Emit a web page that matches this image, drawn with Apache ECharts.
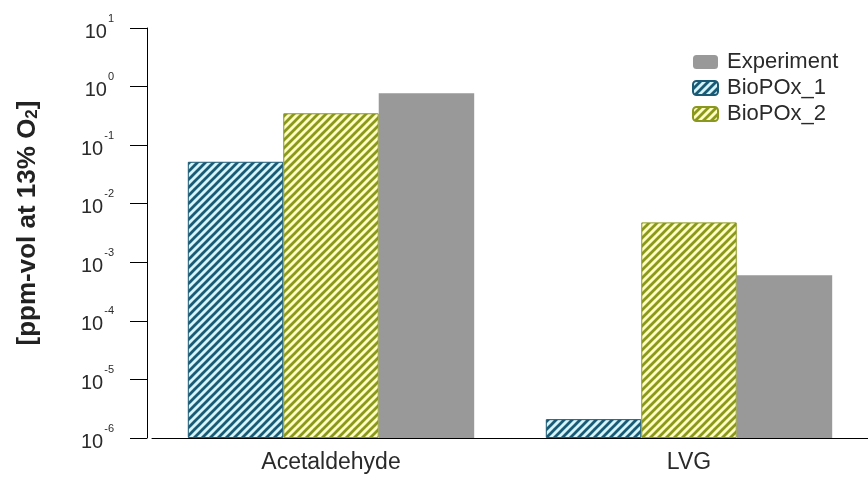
<!DOCTYPE html>
<html>
<head>
<meta charset="utf-8">
<script src="https://cdn.jsdelivr.net/npm/echarts@6/dist/echarts.min.js"></script>
<style>
  html, body { margin: 0; padding: 0; background: #fff; }
  #chart { width: 868px; height: 480px; }
</style>
</head>
<body>
<div id="chart"></div>
<script>
// 数据
const categories = ['Acetaldehyde', 'LVG']
const bioPOx1 = [0.052, 2.1e-6]
const bioPOx2 = [0.35, 0.0048]
const experiment = [0.77, 0.0006]

// 斜线填充
function makeHatch(bg, fg) {
  const s = 8
  const c = document.createElement('canvas')
  c.width = s
  c.height = s
  const ctx = c.getContext('2d')
  ctx.fillStyle = bg
  ctx.fillRect(0, 0, s, s)
  ctx.strokeStyle = fg
  ctx.lineWidth = 2.8
  ctx.beginPath()
  for (let k = 0; k <= 2; k++) {
    ctx.moveTo(-2, k * s + 2)
    ctx.lineTo(k * s + 2, -2)
  }
  ctx.stroke()
  return { image: c, repeat: 'repeat' }
}

const hatchBlue = makeHatch('#d4f5fc', '#1b5a75')
const hatchYellow = makeHatch('#fdfdc0', '#8a981e')

const myChart = echarts.init(document.getElementById('chart'))

const option = {
  animation: false,
  textStyle: { fontFamily: 'Liberation Sans, Arial, sans-serif' },
  legend: {
    data: ['Experiment', 'BioPOx_1', 'BioPOx_2'],
    orient: 'vertical',
    left: 687,
    top: 46,
    itemWidth: 25,
    itemHeight: 14,
    itemGap: 4,
    textStyle: { fontSize: 22, color: '#2a2a2a', padding: [0, 0, 0, 4] }
  },
  grid: {
    left: 152,
    right: -10,
    top: 28,
    bottom: 42
  },
  xAxis: {
    type: 'category',
    data: categories,
    axisLine: { lineStyle: { color: '#000', width: 1 } },
    axisTick: { length: 17, lineStyle: { color: '#000' } },
    axisLabel: { fontSize: 23, color: '#2a2a2a', margin: 13 }
  },
  yAxis: {
    type: 'log',
    logBase: 10,
    min: 1e-6,
    max: 10,
    startValue: 1e-6,
    offset: 5,
    name: '{a|[ppm-vol at 13% O}{sub|2}{a|]}',
    nameLocation: 'middle',
    nameRotate: 90,
    nameGap: 106,
    nameTextStyle: {
      padding: [0, 0, 0, 20],
      rich: {
        a: { fontSize: 26, fontWeight: 'bold', color: '#222' },
        sub: { fontSize: 17, fontWeight: 'bold', color: '#222', padding: [10, 0, 0, 0] }
      }
    },
    splitLine: { show: false },
    axisLine: { show: true, lineStyle: { color: '#000', width: 1 } },
    axisTick: { show: true, length: 17, lineStyle: { color: '#000' } },
    axisLabel: {
      margin: 33,
      padding: [8, 0, 0, 0],
      formatter: (v) => '{b|10}{s|' + Math.round(Math.log10(v)) + '}',
      rich: {
        b: { fontSize: 20, lineHeight: 20, color: '#2a2a2a', verticalAlign: 'bottom' },
        s: { fontSize: 11, lineHeight: 11, color: '#2a2a2a', verticalAlign: 'bottom', padding: [0, 0, 18, 1] }
      }
    }
  },
  series: [
    {
      name: 'BioPOx_1',
      type: 'bar',
      data: bioPOx1,
      barGap: 0,
      barCategoryGap: '20%',
      itemStyle: { color: hatchBlue, borderColor: '#1b5a75', borderWidth: 1 }
    },
    {
      name: 'BioPOx_2',
      type: 'bar',
      data: bioPOx2,
      itemStyle: { color: hatchYellow, borderColor: '#8a981e', borderWidth: 1 }
    },
    {
      name: 'Experiment',
      type: 'bar',
      data: experiment,
      itemStyle: { color: '#999999' }
    }
  ]
}

myChart.setOption(option)
</script>
</body>
</html>
